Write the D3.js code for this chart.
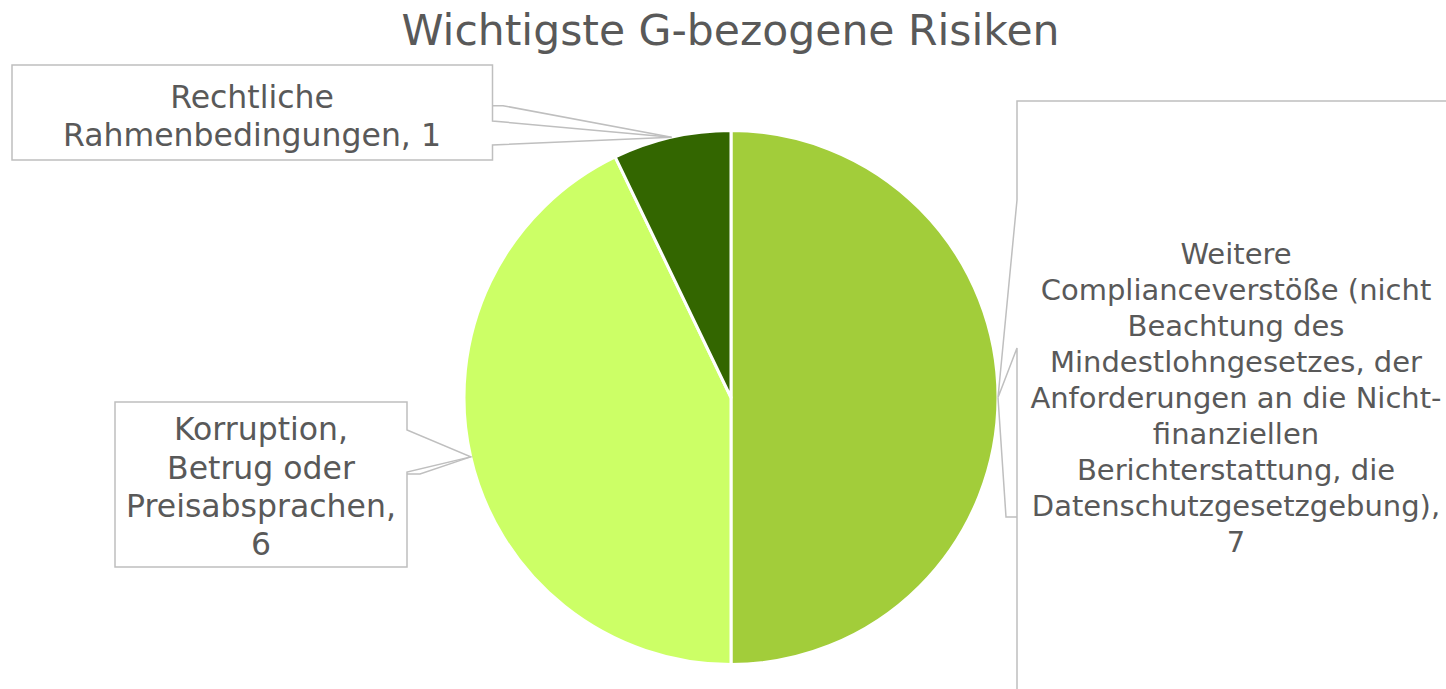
<!DOCTYPE html>
<html>
<head>
<meta charset="utf-8">
<script src="https://cdn.jsdelivr.net/npm/d3@7"></script>
<style>
  html, body { margin: 0; padding: 0; background: #fff; }
  svg { display: block; font-family: "DejaVu Sans", Verdana, sans-serif; }
</style>
</head>
<body>
<svg id="chart" width="1446" height="689"></svg>
<script>
// ---- data ----
const title = "Wichtigste G-bezogene Risiken";
const categories = [
  "Weitere Complianceverstöße (nicht Beachtung des Mindestlohngesetzes, der Anforderungen an die Nicht-finanziellen Berichterstattung, die Datenschutzgesetzgebung)",
  "Korruption, Betrug oder Preisabsprachen",
  "Rechtliche Rahmenbedingungen"
];
const values = [7, 6, 1];
const colors = ["#A2CD3A", "#CCFF66", "#336600"];
// label text as wrapped in the reference (category, value)
const labelLines = [
  ["Weitere", "Complianceverstöße (nicht", "Beachtung des", "Mindestlohngesetzes, der", "Anforderungen an die Nicht-", "finanziellen", "Berichterstattung, die", "Datenschutzgesetzgebung),", "7"],
  ["Korruption,", "Betrug oder", "Preisabsprachen,", "6"],
  ["Rechtliche", "Rahmenbedingungen, 1"]
];

// ---- layout ----
const svg = d3.select("#chart");
const cx = 731, cy = 397.5, r = 267;
const textColor = "#595959";
const boxStroke = "#BFBFBF";

svg.append("text")
  .attr("x", 730.5).attr("y", 45)
  .attr("text-anchor", "middle")
  .attr("font-size", 42.5)
  .attr("fill", textColor)
  .text(title);

const pie = d3.pie().sort(null).value(d => d)(values);
const arc = d3.arc().innerRadius(0).outerRadius(r);

const g = svg.append("g").attr("transform", `translate(${cx},${cy})`);
g.selectAll("path").data(pie).join("path")
  .attr("d", arc)
  .attr("fill", (d, i) => colors[i])
  .attr("stroke", "#fff")
  .attr("stroke-width", 3)
  .attr("stroke-linejoin", "round");

// tip point on the pie edge at each slice's mid-angle
function tip(d) {
  const a = (d.startAngle + d.endAngle) / 2;
  return [cx + r * Math.sin(a), cy - r * Math.cos(a)];
}

// callout boxes: side with wedge opening, gap range, leader line
const boxes = [
  { x0: 1017, y0: 101, x1: 1470, y1: 720, side: "left",  g0: 200, g1: 348, lead: [[1006, 517], [1017, 517]], tx: 1236, ty: 253.5, fs: 29, lh: 36 },
  { x0: 115,  y0: 402, x1: 407,  y1: 567, side: "right", g0: 430, g1: 472, lead: [[420, 474], [407, 474]], tx: 261, ty: 429, fs: 31.5, lh: 38.3 },
  { x0: 12,   y0: 65,  x1: 492.5,y1: 160, side: "right", g0: 121, g1: 145, lead: [[503, 105.7], [492.5, 105.7]], tx: 252, ty: 97, fs: 31.5, lh: 38 }
];

boxes.forEach((b, i) => {
  const [tx, ty] = tip(pie[i]);
  let p;
  if (b.side === "right") {
    p = `M${b.x0},${b.y0}H${b.x1}V${b.g0}L${tx},${ty}L${b.x1},${b.g1}V${b.y1}H${b.x0}Z`;
  } else {
    p = `M${b.x0},${b.y0}H${b.x1}V${b.y1}H${b.x0}V${b.g1}L${tx},${ty}L${b.x0},${b.g0}Z`;
  }
  svg.append("path")
    .attr("d", p)
    .attr("fill", "#fff")
    .attr("stroke", boxStroke)
    .attr("stroke-width", 1.5)
    .attr("stroke-linejoin", "miter");
  const lp = d3.line()([[tx, ty], ...b.lead]);
  svg.append("path")
    .attr("d", lp)
    .attr("fill", "none")
    .attr("stroke", boxStroke)
    .attr("stroke-width", 1.5);

  const t = svg.append("text")
    .attr("text-anchor", "middle")
    .attr("font-size", b.fs)
    .attr("fill", textColor);
  labelLines[i].forEach((line, k) => {
    t.append("tspan")
      .attr("x", b.tx)
      .attr("y", b.ty + k * b.lh)
      .attr("dy", "0.36em")
      .text(line);
  });
});
</script>
</body>
</html>
